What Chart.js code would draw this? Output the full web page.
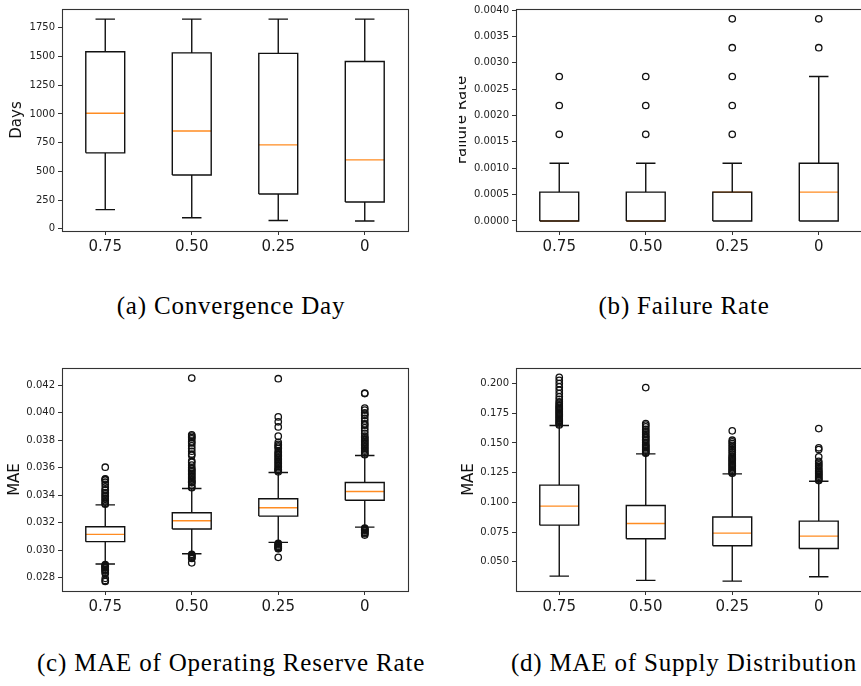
<!DOCTYPE html>
<html lang="en">
<head>
<meta charset="UTF-8">
<title>Box plots</title>
<script src="https://cdn.jsdelivr.net/npm/chart.js"></script>
<style>
  body { margin: 0; background: #fff; width: 861px; height: 686px; overflow: hidden; position: relative; }
  .panel { position: absolute; overflow: hidden; }
  .panel canvas { position: absolute; top: 0; }
  .cap { position: absolute; width: 500px; text-align: center; font-family: 'Liberation Serif', serif;
         font-size: 25px; line-height: 25px; letter-spacing: 0.8px; color: #000; white-space: nowrap; }
</style>
</head>
<body>
<div class="panel" style="left:0;top:0;width:430px;height:270px"><canvas id="chartA" width="430" height="270" style="left:0"></canvas></div>
<div class="panel" style="left:459px;top:0;width:402px;height:270px"><canvas id="chartB" width="440" height="270" style="left:-29px"></canvas></div>
<div class="panel" style="left:0;top:355px;width:430px;height:270px"><canvas id="chartC" width="430" height="270" style="left:0"></canvas></div>
<div class="panel" style="left:430px;top:355px;width:431px;height:270px"><canvas id="chartD" width="440" height="270" style="left:0"></canvas></div>

<div class="cap" style="left:-19px;top:293px">(a) Convergence Day</div>
<div class="cap" style="left:434px;top:293px">(b) Failure Rate</div>
<div class="cap" style="left:-19px;top:650px">(c) MAE of Operating Reserve Rate</div>
<div class="cap" style="left:434px;top:650px">(d) MAE of Supply Distribution</div>

<script>
// categories shared by all four panels
const categories = ['0.75', '0.50', '0.25', '0'];

// (a) convergence day
const dayLo  = [166, 95, 72, 67];
const dayQ1  = [661, 468, 302, 233];
const dayMed = [1006, 851, 730, 600];
const dayQ3  = [1541, 1532, 1527, 1457];
const dayHi  = [1826, 1826, 1826, 1826];
const dayOut = [[], [], [], []];
const dayTicks = [0, 250, 500, 750, 1000, 1250, 1500, 1750];

// (b) failure rate
const failLo  = [0, 0, 0, 0];
const failQ1  = [0, 0, 0, 0];
const failMed = [0, 0, 0.000548, 0.000548];
const failQ3  = [0.000548, 0.000548, 0.000548, 0.001096];
const failHi  = [0.001096, 0.001096, 0.001096, 0.00274];
const failOut = [
  [0.00274, 0.00219, 0.001644],
  [0.00274, 0.00219, 0.001644],
  [0.003834, 0.003286, 0.00274, 0.00219, 0.001644],
  [0.003834, 0.003286]
];
const failTicks = [0, 0.0005, 0.001, 0.0015, 0.002, 0.0025, 0.003, 0.0035, 0.004];

// (c) MAE of operating reserve rate
const resLo  = [0.02899, 0.02974, 0.03057, 0.03168];
const resQ1  = [0.03062, 0.03154, 0.03248, 0.03364];
const resMed = [0.03115, 0.03214, 0.03309, 0.03427];
const resQ3  = [0.03171, 0.03272, 0.03374, 0.03493];
const resHi  = [0.0333, 0.03449, 0.03565, 0.03689];
const resOut = [
  [0.03604, 0.0352, 0.03515, 0.0351, 0.03495, 0.0348, 0.0346, 0.0344, 0.03435, 0.0342, 0.0341, 0.034,
   0.0339, 0.0338, 0.0337, 0.0336, 0.0335, 0.0334, 0.03335,
   0.02895, 0.0289, 0.02885, 0.0288, 0.02875, 0.0287, 0.0286, 0.02855, 0.0285, 0.0284, 0.0283, 0.02795, 0.0278, 0.02772],
  [0.04253, 0.0384, 0.0383, 0.0382, 0.0381, 0.0379, 0.0378, 0.0376, 0.0374, 0.0372, 0.037, 0.0369, 0.0365,
   0.0364, 0.0362, 0.036, 0.0359, 0.0358, 0.0357, 0.0356, 0.0355, 0.0354, 0.0353, 0.0352, 0.0351, 0.035,
   0.03495, 0.0349, 0.03475, 0.0346, 0.03455,
   0.0297, 0.02965, 0.0296, 0.0295, 0.02945, 0.0294, 0.02908],
  [0.04248, 0.0397, 0.03934, 0.03897, 0.0383, 0.03785, 0.0377, 0.0376, 0.0375, 0.0374, 0.0372, 0.0371,
   0.037, 0.0369, 0.0368, 0.0367, 0.0366, 0.0365, 0.0364, 0.0363, 0.0362, 0.0361, 0.036, 0.0359, 0.03585,
   0.0358, 0.0357,
   0.0305, 0.03045, 0.0304, 0.0303, 0.03025, 0.0302, 0.03015, 0.0301, 0.02948],
  [0.04144, 0.0414, 0.04035, 0.0402, 0.04, 0.0399, 0.0398, 0.0396, 0.0394, 0.0392, 0.0391, 0.0389, 0.0387,
   0.0385, 0.0383, 0.0382, 0.0381, 0.038, 0.0379, 0.0378, 0.0377, 0.0376, 0.0375, 0.0374, 0.0373, 0.0372,
   0.0371, 0.037, 0.03695,
   0.0316, 0.03155, 0.0315, 0.03145, 0.0314, 0.0313, 0.03125, 0.0312, 0.0311]
];
const resTicks = [0.028, 0.030, 0.032, 0.034, 0.036, 0.038, 0.040, 0.042];

// (d) MAE of supply distribution
const supLo  = [0.0379, 0.0343, 0.0337, 0.0374];
const supQ1  = [0.0808, 0.0693, 0.0635, 0.0612];
const supMed = [0.0968, 0.0822, 0.0741, 0.0716];
const supQ3  = [0.1145, 0.0974, 0.0876, 0.0842];
const supHi  = [0.1647, 0.1408, 0.124, 0.1178];
const supOut = [
  [0.2053, 0.2028, 0.2, 0.1972, 0.1944, 0.1916, 0.1888, 0.1868, 0.1846, 0.1835, 0.182, 0.181, 0.18, 0.179,
   0.178, 0.177, 0.176, 0.175, 0.174, 0.173, 0.172, 0.171, 0.17, 0.169, 0.168, 0.167, 0.166, 0.1652],
  [0.1966, 0.1663, 0.165, 0.1635, 0.1615, 0.16, 0.1585, 0.157, 0.1555, 0.1545, 0.153, 0.152, 0.1505, 0.149,
   0.148, 0.147, 0.146, 0.145, 0.144, 0.143, 0.142, 0.1413],
  [0.1602, 0.1523, 0.151, 0.1495, 0.148, 0.1465, 0.145, 0.1435, 0.142, 0.1405, 0.139, 0.138, 0.137, 0.136,
   0.135, 0.134, 0.133, 0.132, 0.131, 0.13, 0.129, 0.128, 0.127, 0.126, 0.125, 0.1245],
  [0.1621, 0.1459, 0.1445, 0.1383, 0.1345, 0.133, 0.1315, 0.13, 0.1285, 0.127, 0.126, 0.125, 0.124, 0.123,
   0.122, 0.121, 0.12, 0.119, 0.1183]
];
const supTicks = [0.050, 0.075, 0.100, 0.125, 0.150, 0.175, 0.200];

Chart.defaults.font.family = 'DejaVu Sans';
Chart.defaults.color = '#222';

const HALF_BOX = 0.225;
const HALF_CAP = 0.1125;
const gap = i => ({ x: i, y: null });

function boxOutline(lo, q1, q3, hi) {
  const pts = [];
  lo.forEach((_, i) => {
    pts.push({ x: i - HALF_BOX, y: q1[i] }, { x: i + HALF_BOX, y: q1[i] }, { x: i + HALF_BOX, y: q3[i] },
             { x: i - HALF_BOX, y: q3[i] }, { x: i - HALF_BOX, y: q1[i] }, gap(i));
    pts.push({ x: i, y: q3[i] }, { x: i, y: hi[i] }, gap(i));
    pts.push({ x: i, y: q1[i] }, { x: i, y: lo[i] }, gap(i));
    pts.push({ x: i - HALF_CAP, y: hi[i] }, { x: i + HALF_CAP, y: hi[i] }, gap(i));
    pts.push({ x: i - HALF_CAP, y: lo[i] }, { x: i + HALF_CAP, y: lo[i] }, gap(i));
  });
  return pts;
}

function medianLines(med) {
  const pts = [];
  med.forEach((m, i) => pts.push({ x: i - HALF_BOX, y: m }, { x: i + HALF_BOX, y: m }, gap(i)));
  return pts;
}

const frame = {
  id: 'frame',
  afterDatasetsDraw(chart) {
    const { ctx, chartArea: a } = chart;
    ctx.save();
    ctx.strokeStyle = '#333';
    ctx.lineWidth = 1.1;
    const l = Math.round(a.left) + 0.5, t = Math.round(a.top) + 0.5;
    ctx.strokeRect(l, t, Math.round(a.right) - Math.round(a.left), Math.round(a.bottom) - Math.round(a.top));
    ctx.restore();
  }
};

function boxPanel(id, s, look) {
  const outliers = s.out.flatMap((arr, i) => arr.map(v => ({ x: i, y: v })));
  new Chart(document.getElementById(id), {
    type: 'scatter',
    data: {
      datasets: [
        { data: boxOutline(s.lo, s.q1, s.q3, s.hi), showLine: true, borderColor: '#111', borderWidth: 1.4,
          pointRadius: 0, spanGaps: false },
        { data: medianLines(s.med), showLine: true, borderColor: '#ff8c22', borderWidth: 1.4,
          pointRadius: 0, spanGaps: false },
        { data: outliers, pointStyle: 'circle', pointRadius: 3.2, borderWidth: 1.3, borderColor: '#111',
          backgroundColor: 'rgba(0,0,0,0)' }
      ]
    },
    options: {
      responsive: false,
      animation: false,
      events: [],
      layout: { padding: { left: 0, top: look.padTop, right: look.padRight, bottom: 0 } },
      plugins: { legend: { display: false }, tooltip: { enabled: false } },
      scales: {
        x: {
          type: 'linear', min: -0.5, max: 3.5,
          afterBuildTicks: sc => { sc.ticks = categories.map((_, i) => ({ value: i })); },
          afterFit: sc => { sc.height = look.xHeight; },
          ticks: { callback: v => categories[v], font: { size: 15 }, padding: 3, maxRotation: 0, color: '#1a1a1a' },
          grid: { drawOnChartArea: false, tickLength: 4, color: '#333' },
          border: { display: false }
        },
        y: {
          min: s.min, max: s.max,
          afterBuildTicks: sc => { sc.ticks = s.ticks.map(v => ({ value: v })); },
          afterFit: sc => { sc.width = look.yWidth; },
          ticks: { callback: v => v.toFixed(look.dec), font: { size: 10 }, padding: 3, color: '#222' },
          grid: { drawOnChartArea: false, tickLength: 4, color: '#333' },
          border: { display: false },
          title: { display: true, text: s.title, font: { size: 15 }, color: '#111',
                   padding: { top: look.titlePad, bottom: 0 } }
        }
      }
    },
    plugins: [frame]
  });
}

boxPanel('chartA',
  { lo: dayLo, q1: dayQ1, med: dayMed, q3: dayQ3, hi: dayHi, out: dayOut, ticks: dayTicks,
    min: -20, max: 1914, title: 'Days' },
  { padTop: 8, padRight: 22, yWidth: 62, xHeight: 39, titlePad: 8, dec: 0 });

boxPanel('chartB',
  { lo: failLo, q1: failQ1, med: failMed, q3: failQ3, hi: failHi, out: failOut, ticks: failTicks,
    min: -0.00019, max: 0.00402, title: 'Failure Rate' },
  { padTop: 8, padRight: 8, yWidth: 86, xHeight: 39, titlePad: 23.5, dec: 4 });

boxPanel('chartC',
  { lo: resLo, q1: resQ1, med: resMed, q3: resQ3, hi: resHi, out: resOut, ticks: resTicks,
    min: 0.02703, max: 0.04326, title: 'MAE' },
  { padTop: 13, padRight: 22, yWidth: 62, xHeight: 34, titlePad: 6, dec: 3 });

boxPanel('chartD',
  { lo: supLo, q1: supQ1, med: supMed, q3: supQ3, hi: supHi, out: supOut, ticks: supTicks,
    min: 0.02536, max: 0.2131, title: 'MAE' },
  { padTop: 13, padRight: 8, yWidth: 86, xHeight: 34, titlePad: 30, dec: 3 });
</script>
</body>
</html>
